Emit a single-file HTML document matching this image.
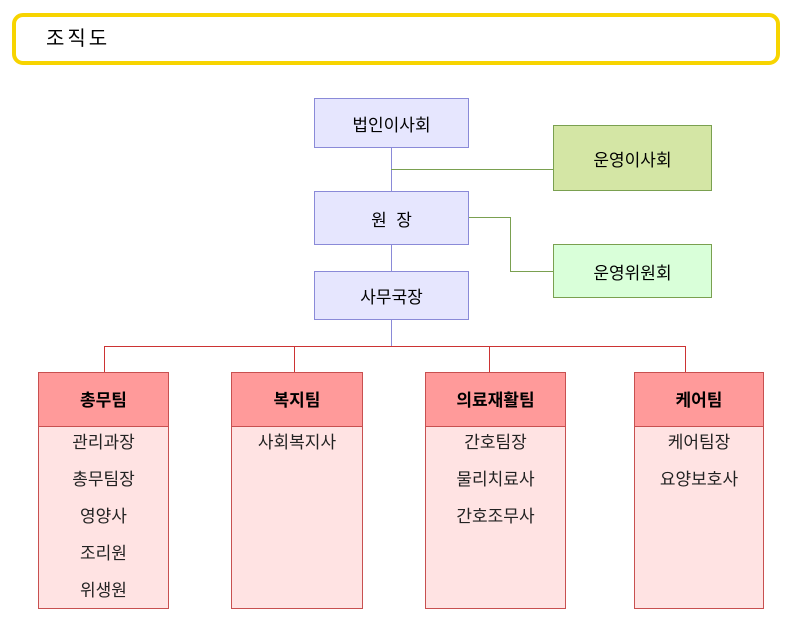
<!DOCTYPE html>
<html><head><meta charset="utf-8"><style>
body{margin:0;width:796px;height:624px;background:#fff;position:relative;font-family:"Liberation Sans","Noto Sans CJK KR","NanumGothic",sans-serif;overflow:hidden}
.a{position:absolute;box-sizing:border-box}
.t{left:12px;top:13px;width:768px;height:52px;border:4px solid #f7d400;border-radius:11px;font-size:20px;line-height:44px;padding-left:30px;letter-spacing:3px}
.b{background:#e6e6fe;border:1px solid #8a8ad8;display:flex;align-items:center;justify-content:center;font-size:17px}
.l{background:#8a8ad8}
.g{background:#7aa050}
.r{background:#cc3333}
.team{background:#ffe3e3;border:1px solid #c85050}
.hd{height:54px;background:#ff9a9a;border-bottom:1px solid #c85050;display:flex;align-items:center;justify-content:center;font-size:17px;font-weight:bold;padding-bottom:3px;box-sizing:border-box}
.it{text-align:center;font-size:17px;height:37px;line-height:37px;color:#222}
.w{margin-top:-3px}
</style></head><body>
<div class="a t">조직도</div>
<div class="a l" style="left:391px;top:147px;width:1px;height:124px"></div>
<div class="a l" style="left:391px;top:319px;width:1px;height:27px"></div>
<div class="a g" style="left:391px;top:169px;width:162px;height:1px"></div>
<div class="a g" style="left:468px;top:217px;width:42px;height:1px"></div>
<div class="a g" style="left:510px;top:217px;width:1px;height:54px"></div>
<div class="a g" style="left:510px;top:271px;width:43px;height:1px"></div>
<div class="a b" style="left:314px;top:98px;width:155px;height:50px">법인이사회</div>
<div class="a b" style="left:314px;top:191px;width:155px;height:54px">원 &nbsp;장</div>
<div class="a b" style="left:314px;top:271px;width:155px;height:49px">사무국장</div>
<div class="a b" style="left:553px;top:125px;width:159px;height:66px;background:#d4e6a5;border-color:#7aa050">운영이사회</div>
<div class="a b" style="left:553px;top:244px;width:159px;height:54px;background:#d9ffd9;border-color:#7aa050">운영위원회</div>
<div class="a r" style="left:104px;top:346px;width:582px;height:1px"></div>
<div class="a r" style="left:104px;top:346px;width:1px;height:26px"></div>
<div class="a r" style="left:294px;top:346px;width:1px;height:26px"></div>
<div class="a r" style="left:489px;top:346px;width:1px;height:26px"></div>
<div class="a r" style="left:685px;top:346px;width:1px;height:26px"></div>
<div class="a team" style="left:38px;top:372px;width:131px;height:237px"><div class="hd">총무팀</div><div class="w"><div class="it">관리과장</div><div class="it">총무팀장</div><div class="it">영양사</div><div class="it">조리원</div><div class="it">위생원</div></div></div>
<div class="a team" style="left:231px;top:372px;width:132px;height:237px"><div class="hd">복지팀</div><div class="w"><div class="it">사회복지사</div></div></div>
<div class="a team" style="left:425px;top:372px;width:141px;height:237px"><div class="hd">의료재활팀</div><div class="w"><div class="it">간호팀장</div><div class="it">물리치료사</div><div class="it">간호조무사</div></div></div>
<div class="a team" style="left:634px;top:372px;width:130px;height:237px"><div class="hd">케어팀</div><div class="w"><div class="it">케어팀장</div><div class="it">요양보호사</div></div></div>
</body></html>
